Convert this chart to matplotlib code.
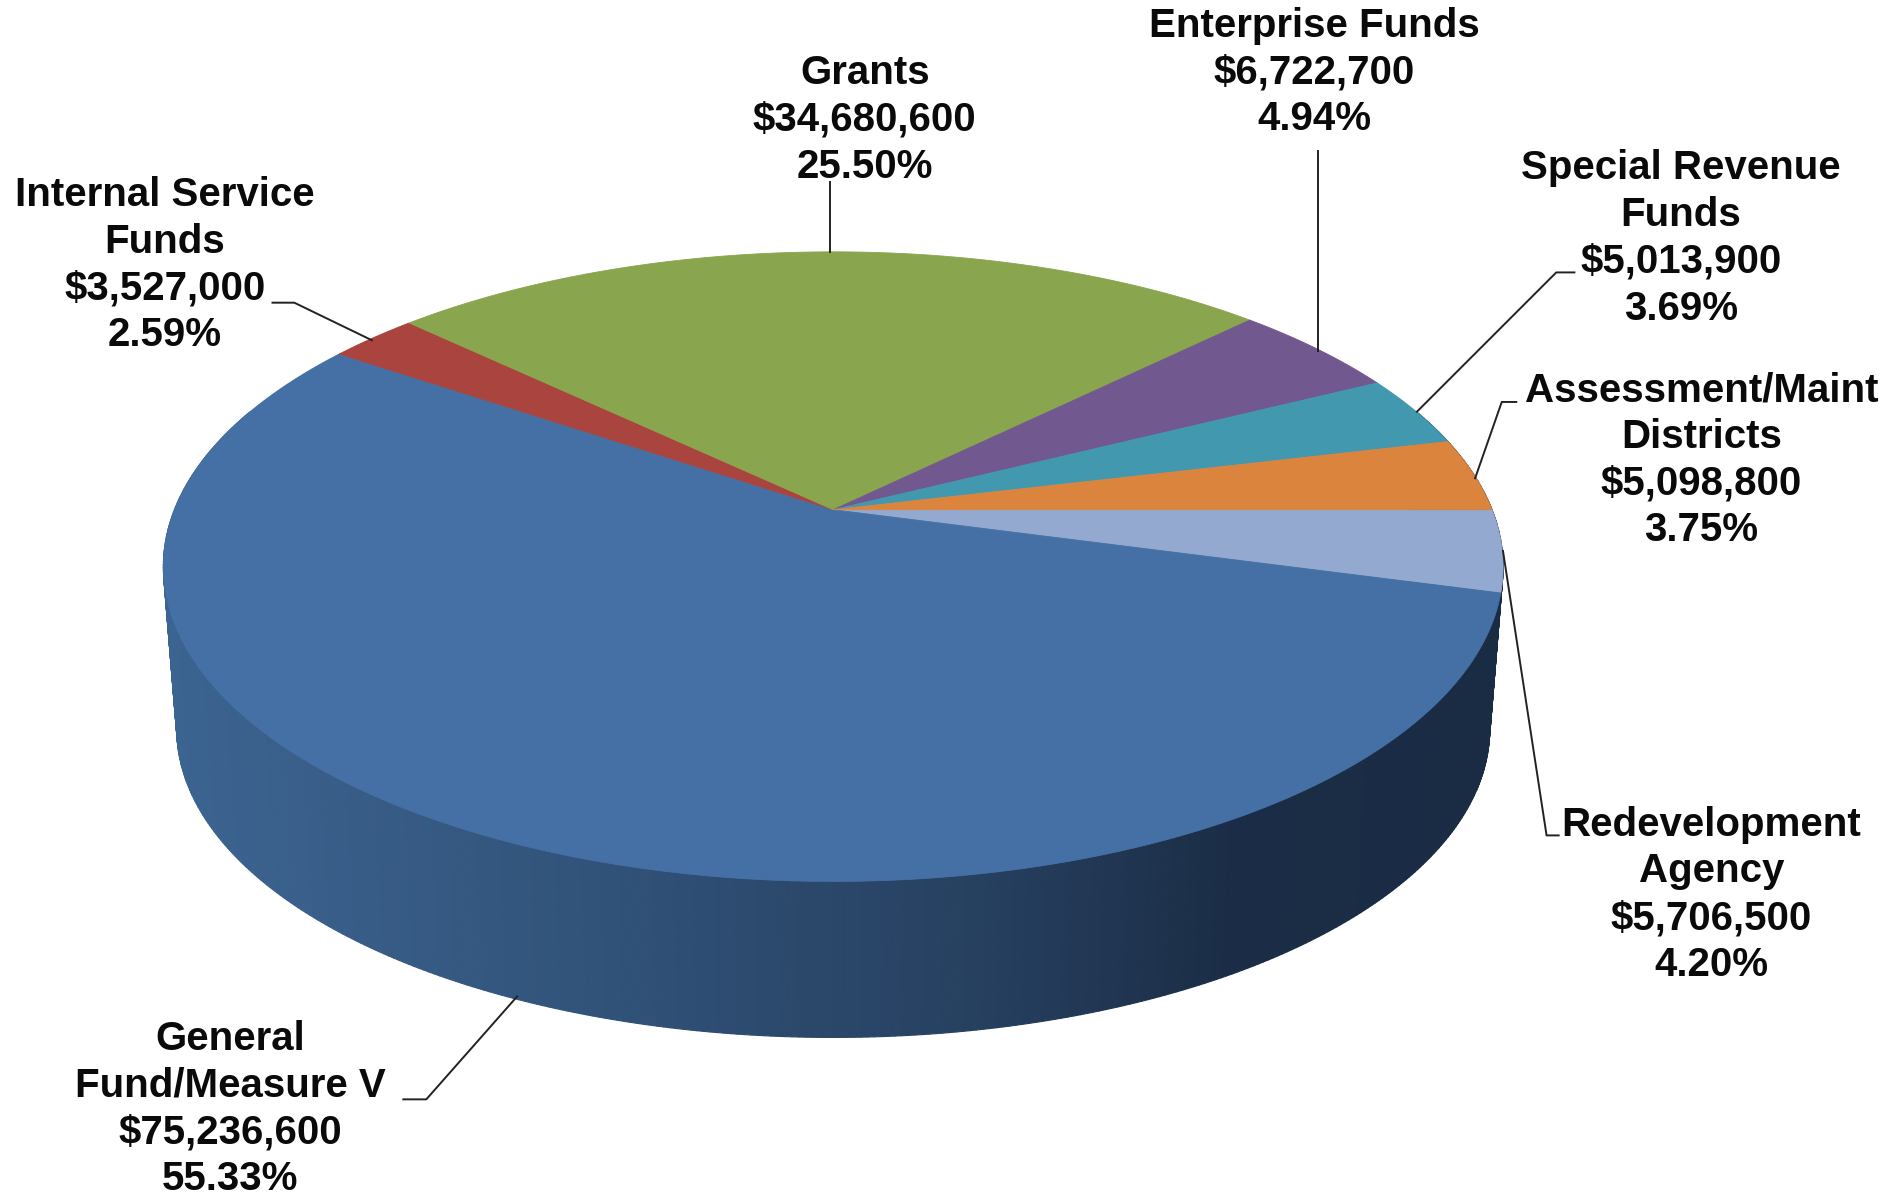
import numpy as np
import matplotlib
matplotlib.use("Agg")
import matplotlib.pyplot as plt
from matplotlib.patches import Polygon
from matplotlib.collections import PolyCollection
from matplotlib.colors import LinearSegmentedColormap

# data, clockwise from 3 o'clock
names = ["Redevelopment\nAgency", "General\nFund/Measure V", "Internal Service\nFunds", "Grants",
         "Enterprise Funds", "Special Revenue\nFunds", "Assessment/Maint\nDistricts"]
amounts = [5706500, 75236600, 3527000, 34680600, 6722700, 5013900, 5098800]
colors = ["#93A9CF", "#4470A5", "#A9443F", "#89A54E", "#71588F", "#4198AF", "#DB843D"]
label_pos = [(1413, 739), (190, 916), (136, 219), (714, 99), (1085, 60), (1388, 197), (1405, 380)]
leaders = [[(1241, 455), (1277, 690), (1287, 690)],
           [(427, 823), (352, 908), (333, 908)],
           [(307, 281), (243, 250), (225, 250)],
           [(685, 208), (685, 150)],
           [(1088, 290), (1088, 125)],
           [(1170, 340), (1285, 225), (1300, 225)],
           [(1218, 395), (1240, 332), (1252, 332)]]

# projection of the tilted disc (shrunk-reference pixel units)
CX, CY = 688, 421
A, B, K = 544, 251.5, 0.1808
DEPTH, SCALE = 135, 0.98


def top(theta):
    u, v = np.cos(theta), np.sin(theta)
    w = 1 + K * v
    return CX + A * u / w, CY - B * v / w


def bottom(theta):
    x, y = top(theta)
    return CX + SCALE * (x - CX), CY + SCALE * (y - CY) + DEPTH


fig = plt.figure(figsize=(18.99, 11.95), dpi=100, facecolor="white")
ax = fig.add_axes([0, 0, 1, 1])
ax.set_xlim(0, 1568)
ax.set_ylim(987, 0)
ax.axis("off")

# side wall with a horizontal gradient
side_cmap = LinearSegmentedColormap.from_list(
    "side", [(0, "#3C6491"), (0.3, "#32547B"), (0.62, "#263F5F"), (0.8, "#1B2D46"), (1, "#1A2C44")])
edges = np.radians(np.arange(-200, 20.01, 0.5))
quads, shades = [], []
for t0, t1 in zip(edges[:-1], edges[1:]):
    x0, y0 = top(t0); x1, y1 = top(t1)
    x2, y2 = bottom(t1); x3, y3 = bottom(t0)
    quads.append([(x0, y0), (x1, y1), (x2, y2), (x3, y3)])
    shades.append(side_cmap(((x0 + x1) / 2 - 134) / (1241 - 134)))
ax.add_collection(PolyCollection(quads, facecolors=shades, edgecolors=shades, linewidths=0.8, zorder=1))

# top face
total = sum(amounts)
start = 0.0
for val, col in zip(amounts, colors):
    sweep = val / total * 2 * np.pi
    th = np.linspace(-start, -start - sweep, 200)
    x, y = top(th)
    pts = np.column_stack([np.r_[CX, x], np.r_[CY, y]])
    ax.add_patch(Polygon(pts, closed=True, facecolor=col, edgecolor=col, linewidth=0.6, zorder=2))
    start += sweep

# leaders and labels
for pts in leaders:
    xs, ys = zip(*pts)
    ax.plot(xs, ys, color="#222222", lw=1.4, zorder=3)
for name, val, (lx, ly) in zip(names, amounts, label_pos):
    txt = f"{name}\n${val:,}\n{val / total:.2%}"
    ax.text(lx, ly, txt, ha="center", va="center", family="Liberation Sans", weight="bold",
            fontsize=29, color="#0A0A0A", linespacing=1.29, zorder=4)

fig.savefig("out.png", dpi=100, facecolor="white")
